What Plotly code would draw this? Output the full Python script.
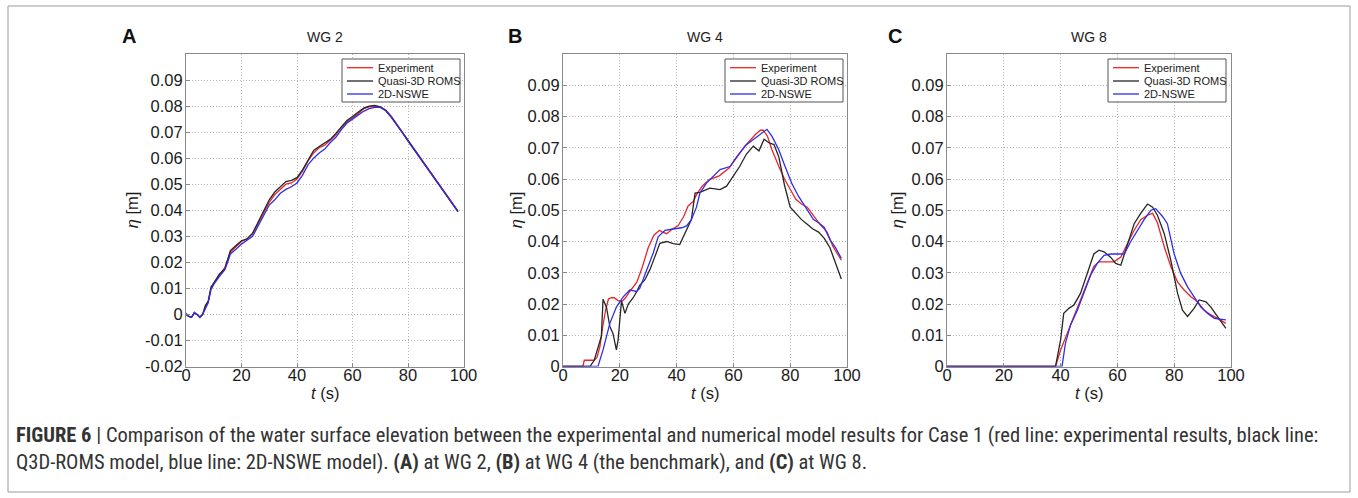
import plotly.graph_objects as go

W, H = 1358, 498

# ---------------- data ----------------
# Panel A : WG 2
tA = [0,1,2,3,4,5,6,7,8,9,10,12,14,15,16,18,20,22,24,26,28,30,32,34,36,38,40,42,44,46,48,50,52,54,56,58,60,62,64,66,68,70,72,74,76,78,80,82,84,86,88,90,92,94,96,98]
A_exp = [0,-0.0008,-0.001,0.0005,0,-0.001,0,0.003,0.005,0.010,0.012,0.015,0.018,0.021,0.024,0.026,0.028,0.029,0.031,0.035,0.039,0.043,0.046,0.048,0.050,0.0505,0.052,0.055,0.059,0.062,0.064,0.065,0.067,0.069,0.072,0.074,0.0755,0.077,0.079,0.0797,0.080,0.0797,0.0785,0.076,0.073,0.070,0.0668,0.0638,0.0608,0.0578,0.0548,0.0518,0.0488,0.0458,0.0428,0.0398]
A_q3d = [0,-0.0008,-0.001,0.0005,0,-0.0012,0,0.0035,0.005,0.0105,0.012,0.0155,0.0175,0.0215,0.0245,0.0265,0.0283,0.029,0.0312,0.0355,0.040,0.044,0.047,0.049,0.051,0.0515,0.0525,0.0555,0.0595,0.063,0.0645,0.066,0.0672,0.0695,0.0722,0.0745,0.076,0.0775,0.0792,0.080,0.0803,0.0797,0.0783,0.0758,0.0728,0.0698,0.0667,0.0638,0.0605,0.0578,0.0548,0.0515,0.0488,0.0455,0.0425,0.0395]
A_nswe = [0.0005,-0.0008,-0.0012,0.0008,0,-0.001,0,0.0025,0.0045,0.0095,0.0115,0.0145,0.0172,0.020,0.0232,0.025,0.027,0.0285,0.030,0.034,0.038,0.042,0.044,0.0465,0.048,0.049,0.0505,0.0535,0.0575,0.060,0.062,0.0635,0.066,0.068,0.071,0.0735,0.075,0.0765,0.078,0.079,0.0795,0.0795,0.0782,0.0757,0.0728,0.0698,0.0665,0.0635,0.0605,0.0575,0.0545,0.0515,0.0485,0.0455,0.0425,0.0395]

# Panel B : WG 4
tB_exp = [0,7,7.5,11,12,13,14,15,16,17,18,19.5,21,22,23.5,26,28,30,32,34,35,36.5,38.5,40.5,42.5,44,46,47,49,51.5,55,58.5,62,64,66,68,69.5,70.5,72,73.5,76,78,80,82,84,86,88,90.5,93,95,98]
B_exp = [0,0,0.002,0.002,0.003,0.0064,0.0128,0.018,0.0216,0.022,0.022,0.021,0.021,0.022,0.024,0.027,0.032,0.038,0.042,0.0436,0.043,0.0425,0.044,0.045,0.048,0.0513,0.053,0.055,0.0577,0.0598,0.061,0.0635,0.068,0.0705,0.0725,0.0745,0.0756,0.0756,0.0737,0.0695,0.064,0.060,0.0567,0.0535,0.052,0.051,0.0485,0.0455,0.043,0.0385,0.034]
tB_q3d = [0,9.5,11,12.3,13.5,14.1,15.3,16.5,17.6,18.8,19.4,20.6,21.8,23,24.7,26,27,28.8,30.6,32.3,34.1,36.5,38.8,41.1,43.5,45.2,46.5,48.2,51.7,55.3,57.6,60,62.2,64.6,67,69,70.8,72.5,74.3,76,78,80,82,84,86,88,90,92,94,96,98]
B_q3d = [0,0,0.002,0.0064,0.0096,0.0215,0.019,0.0128,0.0106,0.0053,0.0085,0.021,0.017,0.020,0.022,0.024,0.026,0.0277,0.031,0.035,0.0394,0.040,0.0393,0.039,0.0436,0.047,0.0555,0.0557,0.0571,0.0566,0.0577,0.061,0.064,0.068,0.0705,0.069,0.0727,0.0716,0.071,0.067,0.058,0.051,0.049,0.047,0.0455,0.044,0.043,0.041,0.038,0.033,0.028]
tB_nswe = [0,12.3,14.1,16.5,18.8,21.2,23.5,25.9,27,29.4,31.8,33.5,35.9,38.8,41.8,43.5,45.2,47,48.2,50.5,52.9,55.3,58.8,61.1,64.6,68.1,69.4,71.8,73.5,75.9,78.2,80.5,82.9,85.9,88.2,90,92,94.1,96,98]
B_nswe = [0,0,0.0053,0.0138,0.019,0.0223,0.0245,0.024,0.025,0.0306,0.0364,0.0415,0.0436,0.044,0.0444,0.045,0.047,0.051,0.0555,0.0587,0.061,0.063,0.064,0.067,0.071,0.0735,0.0743,0.0759,0.0738,0.0695,0.064,0.0587,0.0545,0.050,0.047,0.046,0.0445,0.0404,0.038,0.0346]

# Panel C : WG 8
tC_exp = [0,38.2,40,42.3,44.7,47,49.4,51.7,53.5,56.4,58.8,61.2,63.5,65.9,68.2,70.6,72.4,74.1,76.5,78.8,81.2,83.5,85.9,88.2,90.6,92.9,95.3,98.2]
C_exp = [0,0,0.0053,0.0106,0.016,0.0213,0.0266,0.032,0.0335,0.0335,0.0335,0.035,0.039,0.0436,0.047,0.0484,0.049,0.046,0.0383,0.032,0.027,0.0245,0.0223,0.0207,0.018,0.0165,0.0154,0.0138]
tC_q3d = [0,38.2,40,41.1,42.9,44.7,47,49.4,51.7,53.5,55.3,57.6,59.4,61.2,62.9,65.9,68.2,70.6,72.4,74.1,76.5,78.8,81.2,82.9,84.7,87,88.8,91.2,92.9,95.3,98.2]
C_q3d = [0,0,0.0085,0.017,0.0186,0.0197,0.0234,0.0298,0.036,0.0372,0.0367,0.035,0.033,0.0324,0.037,0.0457,0.049,0.052,0.051,0.0484,0.0425,0.034,0.0234,0.018,0.016,0.0186,0.0213,0.0207,0.019,0.016,0.0122]
tC_nswe = [0,40.5,41.7,43.5,45.9,48.2,50.6,52.9,55.3,57.6,60.6,62.4,64.7,67.1,69.4,71.8,73.5,75.9,77.6,80,82.3,84.7,87,89.4,91.8,94.1,98.2]
C_nswe = [0,0,0.0074,0.0133,0.018,0.0234,0.0293,0.033,0.0356,0.036,0.036,0.036,0.040,0.0436,0.047,0.050,0.0505,0.048,0.0457,0.036,0.0298,0.0255,0.0223,0.019,0.017,0.0154,0.0149]

series_names = ["Experiment", "Quasi-3D ROMS", "2D-NSWE"]
panel_titles = ["WG 2", "WG 4", "WG 8"]
panel_letters = ["A", "B", "C"]
x_ticks = [0, 20, 40, 60, 80, 100]
yticks_A = [-0.02, -0.01, 0, 0.01, 0.02, 0.03, 0.04, 0.05, 0.06, 0.07, 0.08, 0.09]
yticks_BC = [0, 0.01, 0.02, 0.03, 0.04, 0.05, 0.06, 0.07, 0.08, 0.09]

# ---------------- style ----------------
colors = ["#e8262b", "#262626", "#2e2ee6"]
FONT = "Liberation Sans, Arial, Helvetica, sans-serif"

def px_x(p):
    return p / W

def px_y(p):
    return 1 - p / H

panels_px = [(186, 463.5), (563, 847), (947, 1231)]
y_top, y_bot = 54, 366.5

panels = [
    ([(tA, A_exp), (tA, A_q3d), (tA, A_nswe)], [-0.02, 0.1], yticks_A),
    ([(tB_exp, B_exp), (tB_q3d, B_q3d), (tB_nswe, B_nswe)], [0, 0.1], yticks_BC),
    ([(tC_exp, C_exp), (tC_q3d, C_q3d), (tC_nswe, C_nswe)], [0, 0.1], yticks_BC),
]

fig = go.Figure()
layout = dict(
    width=W, height=H,
    margin=dict(l=0, r=0, t=0, b=0, autoexpand=False),
    paper_bgcolor="white", plot_bgcolor="white",
    showlegend=False,
    font=dict(family=FONT, color="#222222"),
)

annotations = []
shapes = []

def fmt(v):
    if abs(v) < 1e-12:
        return "0"
    return f"{v:.2f}"

for i, (series, yr, yt) in enumerate(panels):
    n = "" if i == 0 else str(i + 1)
    xa, ya = "x" + n, "y" + n
    for k, (tt, vv) in enumerate(series):
        fig.add_trace(go.Scatter(x=tt, y=vv, mode="lines", name=series_names[k],
                                 line=dict(color=colors[k], width=1.3),
                                 xaxis=xa, yaxis=ya))
    x0p, x1p = panels_px[i]
    axis_common = dict(showline=True, linecolor="#8a8a8a", linewidth=1, mirror=True,
                       ticks="inside", ticklen=4, tickcolor="#8a8a8a",
                       showgrid=True, gridcolor="#b4b4b4", griddash="1px,2px", gridwidth=1,
                       zeroline=False, automargin=False,
                       tickfont=dict(size=16.5, family=FONT, color="#1a1a1a"))
    layout["xaxis" + n] = dict(domain=[px_x(x0p), px_x(x1p)], range=[0, 100],
                               tickvals=x_ticks, ticktext=[str(v) for v in x_ticks],
                               anchor=ya, ticklabelstandoff=-6, **axis_common)
    layout["yaxis" + n] = dict(domain=[px_y(y_bot), px_y(y_top)], range=yr,
                               tickvals=yt, ticktext=[fmt(v) for v in yt],
                               anchor=xa, ticklabelstandoff=-1, **axis_common)
    cx = (x0p + x1p) / 2
    # panel title
    annotations.append(dict(x=px_x(cx), y=px_y(37), xref="paper", yref="paper",
                            text=panel_titles[i], showarrow=False,
                            font=dict(size=14, family=FONT, color="#222"),
                            xanchor="center", yanchor="middle"))
    # panel letter
    lx = [129, 514.5, 894.5][i]
    annotations.append(dict(x=px_x(lx), y=px_y(36), xref="paper", yref="paper",
                            text="<b>" + panel_letters[i] + "</b>", showarrow=False,
                            font=dict(size=20, family=FONT, color="#111"),
                            xanchor="center", yanchor="middle"))
    # axis labels
    annotations.append(dict(x=px_x(cx), y=px_y(393), xref="paper", yref="paper",
                            text="<i>t</i> (s)", showarrow=False,
                            font=dict(size=16.5, family=FONT, color="#1a1a1a"),
                            xanchor="center", yanchor="middle"))
    ylx = [132, 516, 897][i]
    annotations.append(dict(x=px_x(ylx), y=px_y((y_top + y_bot) / 2), xref="paper", yref="paper",
                            text="<i>η</i> [m]", showarrow=False, textangle=-90,
                            font=dict(size=16.5, family=FONT, color="#1a1a1a"),
                            xanchor="center", yanchor="middle"))
    # legend box
    bx0 = [342, 725, 1108][i]
    bx1 = bx0 + 118
    shapes.append(dict(type="rect", xref="paper", yref="paper",
                       x0=px_x(bx0), x1=px_x(bx1), y0=px_y(59), y1=px_y(102),
                       line=dict(color="#555555", width=1), fillcolor="white", layer="above"))
    for k in range(3):
        ey = [67.7, 81, 94][k]
        shapes.append(dict(type="line", xref="paper", yref="paper",
                           x0=px_x(bx0 + 5), x1=px_x(bx0 + 31), y0=px_y(ey), y1=px_y(ey),
                           line=dict(color=colors[k], width=1.3), layer="above"))
        annotations.append(dict(x=px_x(bx0 + 34), y=px_y(ey), xref="paper", yref="paper",
                                text=series_names[k], showarrow=False,
                                font=dict(size=11, family=FONT, color="#222"),
                                xanchor="left", yanchor="middle"))

# outer frame
shapes.append(dict(type="rect", xref="paper", yref="paper",
                   x0=px_x(8), x1=px_x(1350), y0=px_y(492), y1=px_y(6),
                   line=dict(color="#9a9a9a", width=1), fillcolor="rgba(0,0,0,0)", layer="below"))

CAP_FONT = "Liberation Sans Narrow, Arial Narrow, Roboto Condensed, sans-serif"
cap1 = ("<b>FIGURE 6</b> | Comparison of the water surface elevation between the experimental and "
        "numerical model results for Case 1 (red line: experimental results, black line:")
cap2 = ("Q3D-ROMS model, blue line: 2D-NSWE model). <b>(A)</b> at WG 2, <b>(B)</b> at WG 4 "
        "(the benchmark), and <b>(C)</b> at WG 8.")
for txt, yy in [(cap1, 435), (cap2, 462)]:
    annotations.append(dict(x=px_x(14), y=px_y(yy), xref="paper", yref="paper",
                            text=txt, showarrow=False,
                            font=dict(size=20.5, family=CAP_FONT, color="#333"),
                            xanchor="left", yanchor="middle"))

layout["annotations"] = annotations
layout["shapes"] = shapes
fig.update_layout(**layout)
fig.write_html("out.html", config={"displayModeBar": False},
               post_script="document.body.style.margin='0px';")
